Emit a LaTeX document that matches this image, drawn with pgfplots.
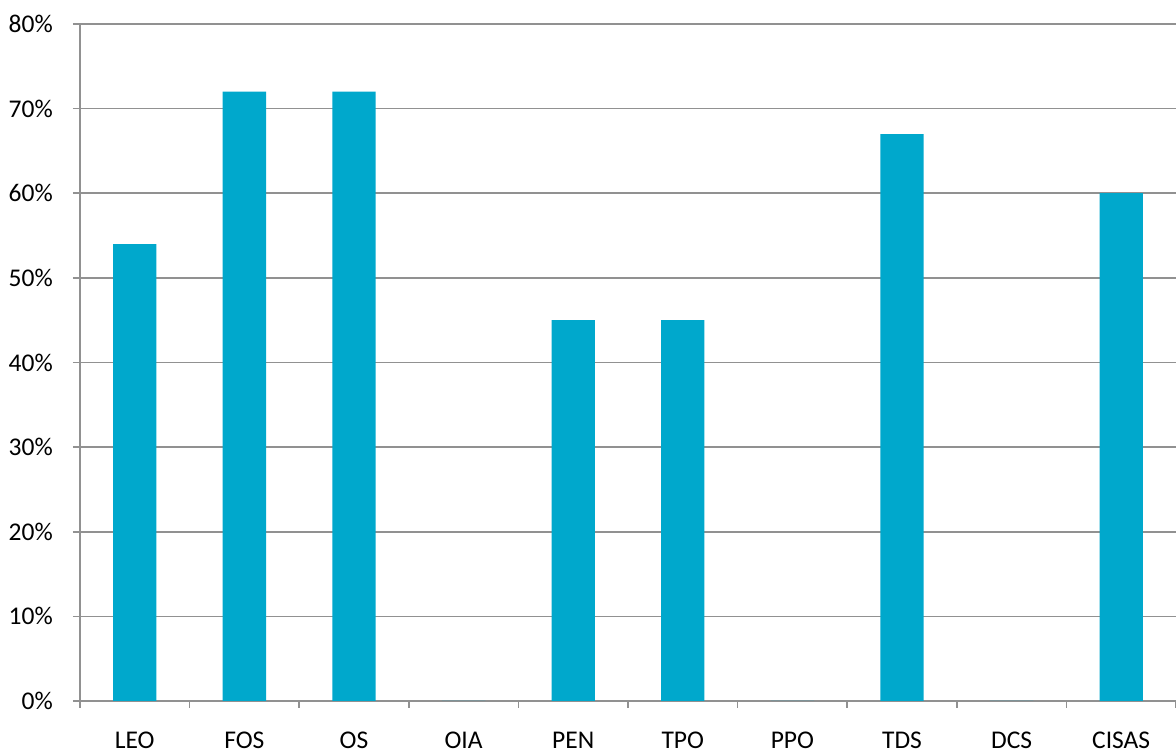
\documentclass[border=0pt]{standalone}
\usepackage{pgfplots}
\pgfplotsset{compat=1.18}
\usepackage{fontspec}
\setmainfont{Carlito}
\definecolor{barc}{RGB}{0,168,204}
\definecolor{gridc}{RGB}{145,145,145}
\begin{document}
\fontsize{25.5}{30}\selectfont
\begin{tikzpicture}
\path[use as bounding box] (-80pt,-53pt) rectangle (1096pt,701pt);
\begin{axis}[
 at={(0,0)}, anchor=south west,
 scale only axis, width=1096pt, height=677pt,
 xmin=0, xmax=10, ymin=0, ymax=80,
 axis lines=left, axis line style={-, draw=gridc, line width=1.6pt},
 ymajorgrids, grid style={draw=gridc, line width=1.6pt},
 ytick={0,10,...,80}, yticklabels={0\%,10\%,20\%,30\%,40\%,50\%,60\%,70\%,80\%},
 xtick={0,1,...,10}, xticklabels={},
 extra x ticks={0.5,1.5,...,9.5},
 extra x tick labels={LEO,FOS,OS,OIA,PEN,TPO,PPO,TDS,DCS,CISAS},
 extra x tick style={major tick length=0pt, grid=none, tick label style={anchor=north, inner sep=0pt, yshift=-31pt}},
 yticklabel style={anchor=east, inner sep=0pt, xshift=-20pt},
 tick align=outside, major tick length=7pt,
 tick style={draw=gridc, line width=1.6pt},
 tick label style={font=\fontsize{25.5}{30}\selectfont},
]
\addplot[ybar, bar width=43.3pt, fill=barc, draw=none] coordinates {
 (0.5,54) (1.5,72) (2.5,72) (3.5,0) (4.5,45) (5.5,45) (6.5,0) (7.5,67) (8.5,0) (9.5,60)};
\end{axis}
\end{tikzpicture}
\end{document}
